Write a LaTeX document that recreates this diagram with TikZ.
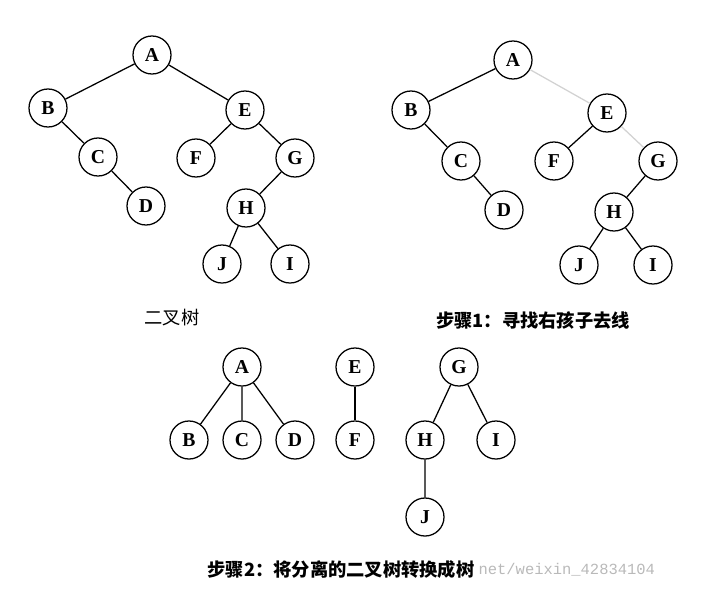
\documentclass[tikz,border=0pt]{standalone}
\usepackage{fontspec}
\setmainfont{Liberation Serif}
\newfontfamily\cjk{Noto Sans CJK SC}
\newfontfamily\wmfont{Liberation Mono}
\usetikzlibrary{positioning}
\begin{document}
\begin{tikzpicture}[x=0.025cm,y=-0.025cm,node distance=1.325cm,line width=0.9pt,
  every node/.style={draw,circle,minimum size=0.95cm,inner sep=0pt,font=\fontsize{14}{14}\selectfont\bfseries},
  caption/.style={draw=none,rectangle,minimum size=0pt,inner sep=1pt,font=\cjk\fontsize{13}{13}\selectfont},
  cut/.style={draw=gray!35}]
  \useasboundingbox (0,0) rectangle (702,593);
  % binary tree
  \node (A1) at (152,55) {A};
  \node (B1) at (48,108) {B};
  \node (E1) at (245,110) {E};
  \node (C1) at (98,157) {C};
  \node (F1) at (196,158) {F};
  \node (G1) at (295,158) {G};
  \node (D1) at (146,206) {D};
  \node (H1) at (246,208) {H};
  \node (J1) at (222,264) {J};
  \node (I1) at (290,264) {I};
  \draw (B1)--(A1)--(E1)--(G1)--(H1)--(J1);
  \draw (B1)--(C1)--(D1);
  \draw (E1)--(F1);
  \draw (H1)--(I1);
  \node[caption] (cap1) at (172,318) {二叉树};
  % step 1
  \node (A2) at (513,60) {A};
  \node (B2) at (411,110) {B};
  \node (E2) at (607,113) {E};
  \node (C2) at (461,161) {C};
  \node (F2) at (554,161) {F};
  \node (G2) at (658,161) {G};
  \node (D2) at (504,210) {D};
  \node (H2) at (614,212) {H};
  \node (J2) at (579,265) {J};
  \node (I2) at (653,265) {I};
  \draw (A2)--(B2)--(C2)--(D2);
  \draw (E2)--(F2);
  \draw (G2)--(H2)--(J2);
  \draw (H2)--(I2);
  \draw[cut] (A2)--(E2);
  \draw[cut] (E2)--(G2);
  \node[caption] (cap2) at (533,320) {\bfseries 步骤1：寻找右孩子去线};
  % step 2
  \node (A3) at (242,367) {A};
  \node (B3) at (189,440) {B};
  \node[right of=B3] (C3) {C};
  \node[right of=C3] (D3) {D};
  \node (E3) at (355,367) {E};
  \node (F3) at (355,440) {F};
  \node (G3) at (459,367) {G};
  \node (H3) at (425,440) {H};
  \node (I3) at (496,440) {I};
  \node (J3) at (425,517) {J};
  \draw (A3)--(B3);
  \draw (A3)--(C3);
  \draw (A3)--(D3);
  \draw (E3)--(F3);
  \draw (G3)--(H3)--(J3);
  \draw (G3)--(I3);
  \node[caption] (cap3) at (341,570) {\bfseries 步骤2：将分离的二叉树转换成树};
  \node[caption,anchor=west,text=gray!55,font=\wmfont\fontsize{11}{11}\selectfont] (wm) at (cap3.east) {net/weixin\_42834104};
\end{tikzpicture}
\end{document}
